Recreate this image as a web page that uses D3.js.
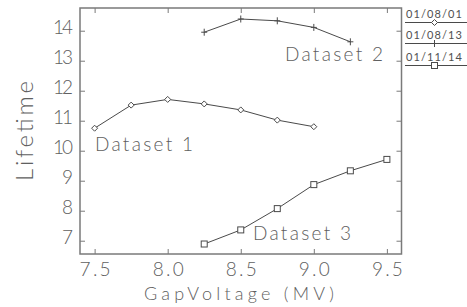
<!DOCTYPE html>
<html>
<head>
<meta charset="utf-8">
<script src="https://cdn.jsdelivr.net/npm/d3@7"></script>
<style>
  html, body { margin: 0; padding: 0; background: #fff; overflow: hidden; }
  svg { display: block; }
  text { font-family: Lato, "DejaVu Sans", sans-serif; font-weight: 300; fill: #606060; }
</style>
</head>
<body>
<div id="chart"></div>
<script>
var x1 = [7.5, 7.75, 8.0, 8.25, 8.5, 8.75, 9.0],
    y1 = [10.75, 11.52, 11.71, 11.56, 11.36, 11.02, 10.8];
var x2 = [8.25, 8.5, 8.75, 9.0, 9.25],
    y2 = [13.95, 14.39, 14.33, 14.11, 13.63];
var x3 = [8.25, 8.5, 8.75, 9.0, 9.25, 9.5],
    y3 = [6.89, 7.36, 8.07, 8.87, 9.33, 9.71];
var xTicks = [7.5, 8.0, 8.5, 9.0, 9.5],
    yTicks = [7, 8, 9, 10, 11, 12, 13, 14];
var legendNames = ["01/08/01", "01/08/13", "01/11/14"],
    seriesNames = ["Dataset 1", "Dataset 2", "Dataset 3"];

var width = 467,
    height = 307,
    margin = {top: 8, right: 65.5, bottom: 53, left: 80},
    innerWidth = width - margin.left - margin.right,
    innerHeight = height - margin.top - margin.bottom;

var xScale = d3.scaleLinear().domain([7.4, 9.6]).range([0, innerWidth]),
    yScale = d3.scaleLinear().domain([6.557, 14.757]).range([innerHeight, 0]);

var svg = d3.select("#chart").append("svg")
      .attr("width", width)
      .attr("height", height)
    .append("g")
      .attr("transform", "translate(" + margin.left + "," + margin.top + ")");

var frameColor = "#7a7a7a", lineColor = "#4a4a4a";

// axes, ticks pointing inward
var xBottom = d3.axisBottom(xScale).tickValues(xTicks).tickFormat(d3.format(".1f"))
      .tickSizeInner(-5).tickSizeOuter(0).tickPadding(9),
    xTop = d3.axisTop(xScale).tickValues(xTicks).tickFormat("")
      .tickSizeInner(-5).tickSizeOuter(0),
    yLeft = d3.axisLeft(yScale).tickValues(yTicks).tickFormat(d3.format("d"))
      .tickSizeInner(-5).tickSizeOuter(0).tickPadding(7),
    yRight = d3.axisRight(yScale).tickValues(yTicks).tickFormat("")
      .tickSizeInner(-5).tickSizeOuter(0);

var gb = svg.append("g").attr("transform", "translate(0," + innerHeight + ")").call(xBottom);
svg.append("g").call(xTop);
var gl = svg.append("g").call(yLeft);
svg.append("g").attr("transform", "translate(" + innerWidth + ",0)").call(yRight);

svg.selectAll(".domain").remove();
svg.selectAll(".tick line").attr("stroke", frameColor).attr("stroke-width", 1);
svg.selectAll(".tick text").attr("fill", null);
gb.selectAll("text").attr("font-size", 19).attr("textLength", 31).attr("lengthAdjust", "spacing");
gl.selectAll("text").attr("font-size", 19).attr("dy", "0.14em")
    .attr("textLength", function(d) { return d >= 10 ? 20 : 10; })
    .attr("lengthAdjust", "spacing");

svg.append("rect")
    .attr("width", innerWidth)
    .attr("height", innerHeight)
    .attr("fill", "none")
    .attr("stroke", frameColor)
    .attr("stroke-width", 1.5);

// axis titles
svg.append("text")
    .attr("x", 239 - margin.left)
    .attr("y", 300 - margin.top)
    .attr("text-anchor", "middle")
    .attr("font-size", 18)
    .attr("textLength", 190)
    .attr("lengthAdjust", "spacing")
    .text("GapVoltage (MV)");

svg.append("text")
    .attr("transform", "translate(" + (33 - margin.left) + "," + (131 - margin.top) + ") rotate(-90)")
    .attr("text-anchor", "middle")
    .attr("font-size", 24)
    .attr("textLength", 100)
    .attr("lengthAdjust", "spacing")
    .text("Lifetime");

// series
var series = [
  {xs: x1, ys: y1, marker: "diamond"},
  {xs: x2, ys: y2, marker: "plus"},
  {xs: x3, ys: y3, marker: "square"}
];

var line = d3.line()
    .x(function(d) { return xScale(d[0]); })
    .y(function(d) { return yScale(d[1]); });

function drawMarker(g, type, cx, cy) {
  if (type === "diamond") {
    g.append("path")
      .attr("d", "M" + cx + "," + (cy - 3) + "L" + (cx + 3) + "," + cy + "L" + cx + "," + (cy + 3) + "L" + (cx - 3) + "," + cy + "Z")
      .attr("fill", "#fff").attr("stroke", lineColor).attr("stroke-width", 1);
  } else if (type === "plus") {
    g.append("path")
      .attr("d", "M" + (cx - 3) + "," + cy + "H" + (cx + 3) + "M" + cx + "," + (cy - 3.5) + "V" + (cy + 3.5))
      .attr("fill", "none").attr("stroke", lineColor).attr("stroke-width", 1);
  } else {
    g.append("rect")
      .attr("x", cx - 3).attr("y", cy - 3).attr("width", 6).attr("height", 6)
      .attr("fill", "#fff").attr("stroke", lineColor).attr("stroke-width", 1);
  }
}

series.forEach(function(s) {
  var pts = s.xs.map(function(v, i) { return [v, s.ys[i]]; });
  var g = svg.append("g");
  g.append("path")
    .datum(pts)
    .attr("d", line)
    .attr("fill", "none")
    .attr("stroke", lineColor)
    .attr("stroke-width", 1);
  pts.forEach(function(p) { drawMarker(g, s.marker, xScale(p[0]), yScale(p[1])); });
});

// in-plot labels
var labelPos = [[95, 151], [285, 61], [253, 240]];
seriesNames.forEach(function(name, i) {
  svg.append("text")
    .attr("x", labelPos[i][0] - margin.left)
    .attr("y", labelPos[i][1] - margin.top)
    .attr("font-size", 19)
    .attr("textLength", 98)
    .attr("lengthAdjust", "spacing")
    .text(name);
});

// legend
var legend = svg.append("g").attr("transform", "translate(" + (405 - margin.left) + "," + (-margin.top) + ")");
var markers = ["diamond", "plus", "square"],
    legendY = [22.5, 43.5, 65.5];
legendNames.forEach(function(name, i) {
  legend.append("text")
    .attr("x", 1)
    .attr("y", legendY[i] - 5)
    .attr("font-size", 11)
    .attr("textLength", 56)
    .attr("lengthAdjust", "spacing")
    .style("font-weight", 400)
    .style("fill", "#505050")
    .text(name);
  legend.append("line")
    .attr("x1", 0).attr("x2", 62)
    .attr("y1", legendY[i]).attr("y2", legendY[i])
    .attr("stroke", lineColor).attr("stroke-width", 1);
  drawMarker(legend, markers[i], 29.5, legendY[i]);
});
</script>
</body>
</html>
